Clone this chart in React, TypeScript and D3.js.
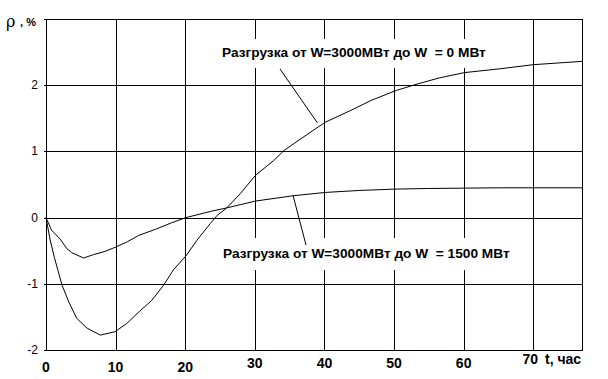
import React from "react";
import * as d3 from "d3";

const W = 608;
const H = 379;

// Series: unloading from W=3000 MW to W=0 MW
const t0 = [0, 0.6, 1.2, 2.3, 3.3, 4.4, 5.9, 7.8, 9.9, 11.6, 13.5, 15.2, 16.9, 18.3, 20.1, 21.7, 23.6, 24.6, 25.9, 27.9, 30.1, 32.7, 34.2, 36.6, 40.1, 43.8, 46.7, 50.3, 53.4, 56.5, 60.1, 65.4, 70, 77];
const v0 = [0, -0.34, -0.6, -1.02, -1.28, -1.52, -1.67, -1.775, -1.725, -1.6, -1.41, -1.25, -1.02, -0.79, -0.58, -0.34, -0.09, 0.035, 0.14, 0.36, 0.64, 0.86, 1.015, 1.19, 1.44, 1.62, 1.77, 1.92, 2.02, 2.11, 2.19, 2.25, 2.31, 2.36];

// Series: unloading from W=3000 MW to W=1500 MW
const t1 = [0, 0.8, 2, 3, 3.7, 5.4, 6.8, 8.5, 9.9, 11.6, 13.3, 15.9, 18, 20.1, 23.9, 25.9, 30.1, 35.5, 40.1, 45, 50, 55, 60, 65, 70, 77];
const v1 = [0, -0.19, -0.32, -0.47, -0.53, -0.61, -0.56, -0.51, -0.45, -0.37, -0.27, -0.17, -0.08, 0, 0.1, 0.145, 0.25, 0.33, 0.38, 0.41, 0.43, 0.44, 0.445, 0.45, 0.45, 0.45];

const xTicks = [0, 10, 20, 30, 40, 50, 60, 70];
const xTickDy = [0, 0, 0, -4, -4, -4, -4, -8];
const xTickDx = [0, 0, 0, 0, 0, 0, 0, -3];
const yTicks = [-2, -1, 0, 1, 2];
const xGrid = [10, 20, 30, 40, 50, 60, 70];
const yGrid = [-1, 0, 1, 2];

const label0 = "Разгрузка от W=3000МВт до W  = 0 МВт";
const label1 = "Разгрузка от W=3000МВт до W  = 1500 МВт";
const yTitle = "ρ";
const yTitleUnit = " , %";
const xTitle = "t, час";

export default function App() {
  const x = d3.scaleLinear().domain([0, 77]).range([46, 582]);
  const y = d3.scaleLinear().domain([-2, 3]).range([350, 19]);
  const px = (v: number) => Math.round(x(v)) + 0.5;
  const py = (v: number) => Math.round(y(v)) + 0.5;

  const line = d3
    .line<[number, number]>()
    .x((d) => x(d[0]))
    .y((d) => y(d[1]));
  const d0 = line(t0.map((t, i) => [t, v0[i]] as [number, number])) || "";
  const d1 = line(t1.map((t, i) => [t, v1[i]] as [number, number])) || "";

  const bold = "'Liberation Sans', Arial, sans-serif";
  const narrow = "'Liberation Sans Narrow', 'Arial Narrow', 'Liberation Sans', Arial, sans-serif";

  return (
    <svg
      width={W}
      height={H}
      style={{ position: "absolute", left: 0, top: 0, background: "#fff" }}
    >
      <rect x={0} y={0} width={W} height={H} fill="#fff" />
      <g stroke="#000" strokeWidth={1} shapeRendering="crispEdges">
        {xGrid.map((v) => (
          <line key={"vx" + v} x1={px(v)} x2={px(v)} y1={py(3)} y2={py(-2)} />
        ))}
        {yGrid.map((v) => (
          <line key={"hy" + v} x1={px(0) - 3} x2={px(77)} y1={py(v)} y2={py(v)} />
        ))}
        <rect
          x={px(0)}
          y={py(3)}
          width={px(77) - px(0)}
          height={py(-2) - py(3)}
          fill="none"
        />
        <line x1={px(0) - 3} x2={px(0)} y1={py(-2)} y2={py(-2)} />
        <line x1={px(0) - 3} x2={px(0)} y1={py(3)} y2={py(3)} />
      </g>

      <path d={d0} fill="none" stroke="#000" strokeWidth={1} />
      <path d={d1} fill="none" stroke="#000" strokeWidth={1} />

      {/* label boxes */}
      <rect x={215} y={39} width={282} height={29} fill="#fff" />
      <rect x={216} y={238} width={310} height={32} fill="#fff" />
      <line x1={280} y1={69} x2={x(39)} y2={y(1.43)} stroke="#000" strokeWidth={1} />
      <line x1={x(35.5)} y1={y(0.33)} x2={306} y2={245} stroke="#000" strokeWidth={1} />

      <text
        x={222}
        y={57}
        fontFamily={bold}
        fontWeight="bold"
        fontSize={13.7}
        style={{ whiteSpace: "pre" }}
      >
        {label0}
      </text>
      <text
        x={223}
        y={258}
        fontFamily={bold}
        fontWeight="bold"
        fontSize={13.7}
        style={{ whiteSpace: "pre" }}
      >
        {label1}
      </text>

      {yTicks.map((v) => (
        <text
          key={"yt" + v}
          x={38}
          y={y(v) + 4}
          textAnchor="end"
          fontFamily="'Liberation Sans', Arial, sans-serif"
          fontSize={12}
        >
          {v}
        </text>
      ))}
      {xTicks.map((v, i) => (
        <text
          key={"xt" + v}
          x={x(v) + xTickDx[i]}
          y={371.5 + xTickDy[i]}
          textAnchor="middle"
          fontFamily={narrow}
          fontWeight="bold"
          fontSize={14}
        >
          {v}
        </text>
      ))}
      <text
        x={545}
        y={364}
        fontFamily={narrow}
        fontWeight="bold"
        fontSize={14}
        style={{ whiteSpace: "pre" }}
      >
        {xTitle}
      </text>

      <text x={6} y={27} fontFamily="'DejaVu Serif', serif" fontSize={16}>
        {yTitle}
      </text>
      <text
        x={17}
        y={26}
        fontFamily={bold}
        fontWeight="bold"
        fontSize={11}
        style={{ whiteSpace: "pre" }}
      >
        {yTitleUnit}
      </text>
    </svg>
  );
}
